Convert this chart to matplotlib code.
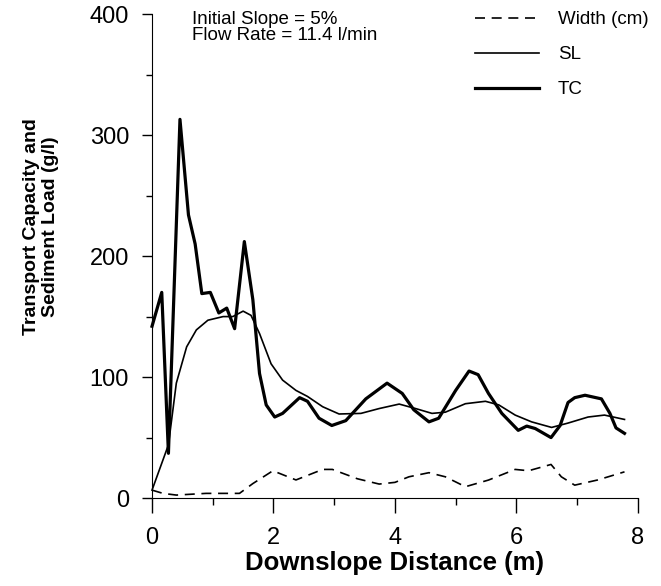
import matplotlib
matplotlib.use("Agg")
import matplotlib.pyplot as plt
from matplotlib.ticker import MultipleLocator

plt.rcParams['font.family'] = ['Liberation Sans', 'DejaVu Sans']

# Transport capacity (TC) - thick line
tc_x = [0.0, 0.16, 0.27, 0.46, 0.60, 0.71, 0.82, 0.96, 1.10, 1.23, 1.36, 1.52, 1.66, 1.77,
        1.88, 2.02, 2.15, 2.43, 2.56, 2.75, 2.96, 3.19, 3.52, 3.87, 4.12, 4.31, 4.56, 4.72,
        5.00, 5.22, 5.37, 5.54, 5.76, 6.03, 6.17, 6.31, 6.57, 6.72, 6.85, 6.96, 7.13, 7.40,
        7.54, 7.64, 7.78]
tc_y = [142, 170, 37, 313, 234, 210, 169, 170, 153, 157, 140, 212, 164, 103,
        77, 67, 70, 83, 80, 66, 60, 64, 82, 95, 86.5, 73, 63, 66,
        89, 105, 102, 86.5, 70, 56, 59.5, 57.5, 50, 60, 79, 83, 85, 82,
        70, 58, 53.5]

# Sediment load (SL) - thin line
sl_x = [0.0, 0.27, 0.40, 0.57, 0.73, 0.92, 1.17, 1.33, 1.50, 1.63, 1.77, 1.96, 2.15, 2.37,
        2.56, 2.81, 3.08, 3.44, 3.74, 4.07, 4.34, 4.61, 4.83, 5.16, 5.49, 5.71, 5.98, 6.25,
        6.58, 6.85, 7.18, 7.45, 7.78]
sl_y = [6.6, 44, 95, 125, 139, 147, 150, 150, 154.5, 151, 136, 111, 97.5, 89,
        84, 75.5, 69.5, 70, 74, 77.7, 74, 70, 71, 78, 80, 77, 68.6, 63,
        58.4, 62, 67, 68.6, 65]

# Width (cm) - dashed line
w_x = [0.0, 0.18, 0.40, 0.89, 1.44, 1.66, 1.99, 2.37, 2.81, 2.97, 3.38, 3.74, 4.0, 4.23,
       4.56, 4.83, 5.16, 5.54, 5.98, 6.20, 6.57, 6.74, 6.96, 7.34, 7.78]
w_y = [6.6, 3.9, 2.5, 3.9, 3.9, 12, 22.6, 15, 23.7, 23.7, 16, 11.6, 13, 17.6,
       21, 17.6, 9.4, 14.9, 23.7, 22.6, 27.8, 17.6, 10.7, 15, 21.7]

fig = plt.figure(figsize=(6.61, 5.86), dpi=100)
ax = fig.add_axes([0.230, 0.150, 0.735, 0.826])

ax.plot(w_x, w_y, color='black', lw=1.2, ls=(0, (6, 4)), label='Width (cm)', clip_on=False)
ax.plot(sl_x, sl_y, color='black', lw=1.2, label='SL', clip_on=False)
ax.plot(tc_x, tc_y, color='black', lw=2.3, label='TC', clip_on=False)

ax.set_xlim(0, 8)
ax.set_ylim(0, 400)
ax.xaxis.set_major_locator(MultipleLocator(2))
ax.xaxis.set_minor_locator(MultipleLocator(1))
ax.yaxis.set_major_locator(MultipleLocator(100))
ax.yaxis.set_minor_locator(MultipleLocator(50))
ax.spines['top'].set_visible(False)
ax.spines['right'].set_visible(False)
ax.tick_params(axis='x', which='major', length=11, width=1, labelsize=17, pad=10)
ax.tick_params(axis='x', which='minor', length=5, width=1)
ax.tick_params(axis='y', which='major', length=7.5, width=1, labelsize=17, pad=9)
ax.tick_params(axis='y', which='minor', length=4.5, width=1)

ax.set_xlabel('Downslope Distance (m)', fontsize=18.5, fontweight='bold', labelpad=1)

fig.text(41 / 661, 0.614, 'Transport Capacity and\nSediment Load (g/l)', rotation=90,
         fontsize=14, fontweight='bold', ha='center', va='center', linespacing=1.13)

fig.text(192 / 661, 1 - 11 / 586, 'Initial Slope = 5%\nFlow Rate = 11.4 l/min',
         fontsize=13.5, va='top', ha='left', linespacing=0.96)

ax.legend(loc='upper left', bbox_to_anchor=(466 / 661, 1 - 2 / 586),
          bbox_transform=fig.transFigure, frameon=False, fontsize=13.5, borderpad=0,
          handlelength=3.4, handletextpad=1.0, labelspacing=0.95)

fig.savefig('out.png', dpi=100)
